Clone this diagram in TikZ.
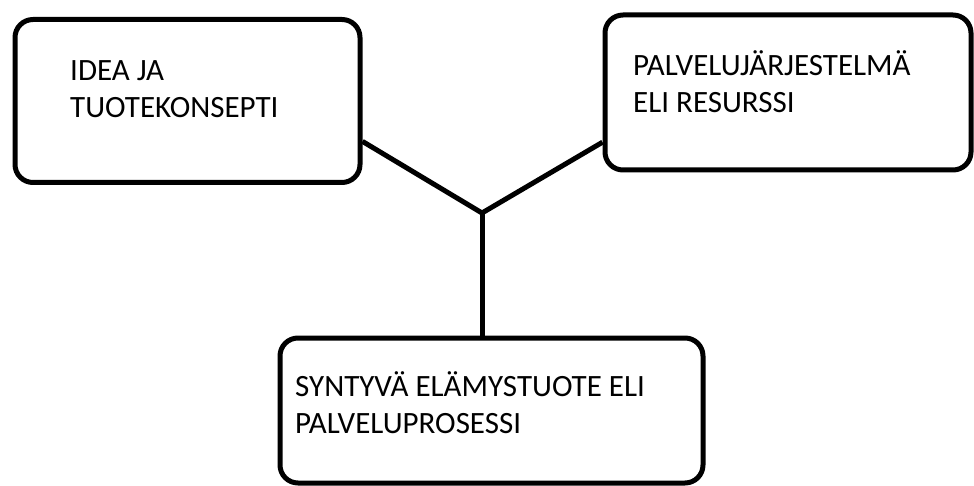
\documentclass[tikz,border=0pt]{standalone}
\usepackage{fontspec}
\setmainfont{Carlito}

\begin{document}
\begin{tikzpicture}[x=1pt, y=-1pt,
    box/.style={rectangle, draw, line width=5pt, rounded corners=18pt, inner sep=0pt},
    boxtext/.style={anchor=base west, align=left, inner sep=0pt, font=\fontsize{31}{37}\selectfont},
    link/.style={line width=5pt, line join=miter}
]
\useasboundingbox (0,0) rectangle (974,486);
% Idea box
\node[box, minimum width=345pt, minimum height=163pt] (idea) at (187.5,101) {};
\node[boxtext] (ideatxt) at (70,118) {IDEA JA\\TUOTEKONSEPTI};
% Service system box
\node[box, minimum width=366pt, minimum height=155pt] (system) at (788,92.5) {};
\node[boxtext] (systemtxt) at (633,113) {PALVELUJÄRJESTELMÄ\\ELI RESURSSI};
% Process box
\node[box, minimum width=423pt, minimum height=145pt] (process) at (491.5,410.5) {};
\node[boxtext] (processtxt) at (295,433) {SYNTYVÄ ELÄMYSTUOTE ELI\\PALVELUPROSESSI};
% Links
\coordinate (hub) at (482,213);
\draw[link] (idea.-13.4) -- (hub) -- (system.195.1);
\draw[link] (hub) -- (hub |- process.north);
\end{tikzpicture}
\end{document}
